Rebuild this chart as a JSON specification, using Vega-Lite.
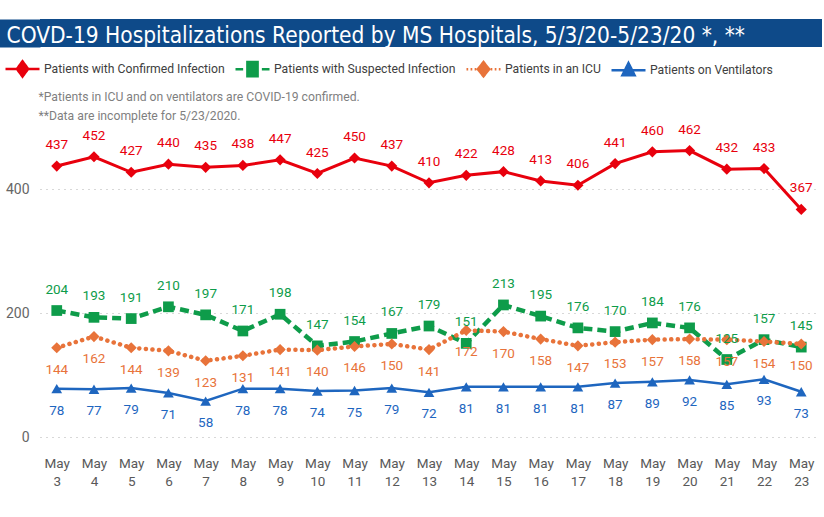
{
  "$schema": "https://vega.github.io/schema/vega-lite/v6.json",
  "padding": {"left": 0, "top": 15, "right": 0, "bottom": 0},
  "background": "white",
  "columns": 1,
  "align": "none",
  "spacing": 1,
  "resolve": {"legend": {"color": "independent"}, "scale": {"x": "independent", "y": "independent"}},
  "config": {"view": {"stroke": null}, "font": "Roboto, sans-serif"},
  "data": {"values": [
    {"day": 3, "series": "Patients with Confirmed Infection", "value": 437},
    {"day": 4, "series": "Patients with Confirmed Infection", "value": 452},
    {"day": 5, "series": "Patients with Confirmed Infection", "value": 427},
    {"day": 6, "series": "Patients with Confirmed Infection", "value": 440},
    {"day": 7, "series": "Patients with Confirmed Infection", "value": 435},
    {"day": 8, "series": "Patients with Confirmed Infection", "value": 438},
    {"day": 9, "series": "Patients with Confirmed Infection", "value": 447},
    {"day": 10, "series": "Patients with Confirmed Infection", "value": 425},
    {"day": 11, "series": "Patients with Confirmed Infection", "value": 450},
    {"day": 12, "series": "Patients with Confirmed Infection", "value": 437},
    {"day": 13, "series": "Patients with Confirmed Infection", "value": 410},
    {"day": 14, "series": "Patients with Confirmed Infection", "value": 422},
    {"day": 15, "series": "Patients with Confirmed Infection", "value": 428},
    {"day": 16, "series": "Patients with Confirmed Infection", "value": 413},
    {"day": 17, "series": "Patients with Confirmed Infection", "value": 406},
    {"day": 18, "series": "Patients with Confirmed Infection", "value": 441},
    {"day": 19, "series": "Patients with Confirmed Infection", "value": 460},
    {"day": 20, "series": "Patients with Confirmed Infection", "value": 462},
    {"day": 21, "series": "Patients with Confirmed Infection", "value": 432},
    {"day": 22, "series": "Patients with Confirmed Infection", "value": 433},
    {"day": 23, "series": "Patients with Confirmed Infection", "value": 367},
    {"day": 3, "series": "Patients with Suspected Infection", "value": 204},
    {"day": 4, "series": "Patients with Suspected Infection", "value": 193},
    {"day": 5, "series": "Patients with Suspected Infection", "value": 191},
    {"day": 6, "series": "Patients with Suspected Infection", "value": 210},
    {"day": 7, "series": "Patients with Suspected Infection", "value": 197},
    {"day": 8, "series": "Patients with Suspected Infection", "value": 171},
    {"day": 9, "series": "Patients with Suspected Infection", "value": 198},
    {"day": 10, "series": "Patients with Suspected Infection", "value": 147},
    {"day": 11, "series": "Patients with Suspected Infection", "value": 154},
    {"day": 12, "series": "Patients with Suspected Infection", "value": 167},
    {"day": 13, "series": "Patients with Suspected Infection", "value": 179},
    {"day": 14, "series": "Patients with Suspected Infection", "value": 151},
    {"day": 15, "series": "Patients with Suspected Infection", "value": 213},
    {"day": 16, "series": "Patients with Suspected Infection", "value": 195},
    {"day": 17, "series": "Patients with Suspected Infection", "value": 176},
    {"day": 18, "series": "Patients with Suspected Infection", "value": 170},
    {"day": 19, "series": "Patients with Suspected Infection", "value": 184},
    {"day": 20, "series": "Patients with Suspected Infection", "value": 176},
    {"day": 21, "series": "Patients with Suspected Infection", "value": 125},
    {"day": 22, "series": "Patients with Suspected Infection", "value": 157},
    {"day": 23, "series": "Patients with Suspected Infection", "value": 145},
    {"day": 3, "series": "Patients in an ICU", "value": 144},
    {"day": 4, "series": "Patients in an ICU", "value": 162},
    {"day": 5, "series": "Patients in an ICU", "value": 144},
    {"day": 6, "series": "Patients in an ICU", "value": 139},
    {"day": 7, "series": "Patients in an ICU", "value": 123},
    {"day": 8, "series": "Patients in an ICU", "value": 131},
    {"day": 9, "series": "Patients in an ICU", "value": 141},
    {"day": 10, "series": "Patients in an ICU", "value": 140},
    {"day": 11, "series": "Patients in an ICU", "value": 146},
    {"day": 12, "series": "Patients in an ICU", "value": 150},
    {"day": 13, "series": "Patients in an ICU", "value": 141},
    {"day": 14, "series": "Patients in an ICU", "value": 172},
    {"day": 15, "series": "Patients in an ICU", "value": 170},
    {"day": 16, "series": "Patients in an ICU", "value": 158},
    {"day": 17, "series": "Patients in an ICU", "value": 147},
    {"day": 18, "series": "Patients in an ICU", "value": 153},
    {"day": 19, "series": "Patients in an ICU", "value": 157},
    {"day": 20, "series": "Patients in an ICU", "value": 158},
    {"day": 21, "series": "Patients in an ICU", "value": 157},
    {"day": 22, "series": "Patients in an ICU", "value": 154},
    {"day": 23, "series": "Patients in an ICU", "value": 150},
    {"day": 3, "series": "Patients on Ventilators", "value": 78},
    {"day": 4, "series": "Patients on Ventilators", "value": 77},
    {"day": 5, "series": "Patients on Ventilators", "value": 79},
    {"day": 6, "series": "Patients on Ventilators", "value": 71},
    {"day": 7, "series": "Patients on Ventilators", "value": 58},
    {"day": 8, "series": "Patients on Ventilators", "value": 78},
    {"day": 9, "series": "Patients on Ventilators", "value": 78},
    {"day": 10, "series": "Patients on Ventilators", "value": 74},
    {"day": 11, "series": "Patients on Ventilators", "value": 75},
    {"day": 12, "series": "Patients on Ventilators", "value": 79},
    {"day": 13, "series": "Patients on Ventilators", "value": 72},
    {"day": 14, "series": "Patients on Ventilators", "value": 81},
    {"day": 15, "series": "Patients on Ventilators", "value": 81},
    {"day": 16, "series": "Patients on Ventilators", "value": 81},
    {"day": 17, "series": "Patients on Ventilators", "value": 81},
    {"day": 18, "series": "Patients on Ventilators", "value": 87},
    {"day": 19, "series": "Patients on Ventilators", "value": 89},
    {"day": 20, "series": "Patients on Ventilators", "value": 92},
    {"day": 21, "series": "Patients on Ventilators", "value": 85},
    {"day": 22, "series": "Patients on Ventilators", "value": 93},
    {"day": 23, "series": "Patients on Ventilators", "value": 73}
  ]},
  "concat": [
    {
      "width": 782,
      "height": 28,
      "view": {"fill": "#0E4A89", "stroke": null},
      "mark": {"type": "text"},
      "encoding": {
        "x": {
          "field": "day",
          "type": "ordinal",
          "axis": {
            "orient": "top",
            "zindex": 2,
            "labels": false,
            "ticks": false,
            "domain": false,
            "grid": false,
            "title": "COVD-19 Hospitalizations Reported by MS Hospitals, 5/3/20-5/23/20 *, **",
            "titleAnchor": "start",
            "titleAlign": "left",
            "titleBaseline": "alphabetic",
            "titleX": -34,
            "titleY": 23,
            "titleColor": "white",
            "titleFontSize": 22.5,
            "titleFontWeight": "normal",
            "titleFont": "DejaVu Sans Condensed, Roboto, sans-serif",
            "titlePadding": 0
          }
        },
        "y": {
          "field": "value",
          "type": "quantitative",
          "axis": {
            "zindex": 0,
            "labels": false,
            "ticks": false,
            "grid": false,
            "title": null,
            "domain": true,
            "domainColor": "#0E4A89",
            "domainWidth": 42,
            "offset": 21
          }
        },
        "text": {"value": ""}
      }
    },
    {
      "width": 778,
      "height": 310,
      "encoding": {
        "y": {
          "field": "value",
          "type": "quantitative",
          "scale": {"domain": [0, 500], "nice": false},
          "axis": {
            "values": [0, 200, 400],
            "title": null,
            "domain": false,
            "ticks": false,
            "labelFontSize": 14,
            "labelColor": "#666666",
            "labelPadding": 11,
            "minExtent": 40,
            "gridDash": [1, 5],
            "gridColor": "#b0b0b0",
            "gridWidth": 1
          }
        },
        "color": {
          "field": "series",
          "type": "nominal",
          "scale": {
            "domain": ["Patients with Confirmed Infection", "Patients with Suspected Infection", "Patients in an ICU", "Patients on Ventilators"],
            "range": ["#E8000D", "#0E9C4A", "#E8733A", "#1E66BF"]
          },
          "legend": {
            "orient": "none",
            "legendX": -36,
            "legendY": -77,
            "direction": "horizontal",
            "title": null,
            "labelFontSize": 12.2,
            "labelColor": "#404040",
            "labelLimit": 400,
            "symbolSize": 1156,
            "columnPadding": 5,
            "labelOffset": 3,
            "encode": {
              "symbols": {
                "update": {
                  "shape": {"signal": "datum.value === 'Patients with Confirmed Infection' ? 'M-1,0H1M0,-0.45L0.33,0L0,0.45L-0.33,0Z' : datum.value === 'Patients with Suspected Infection' ? 'M-1,0H-0.55M0.55,0H1M-0.3,-0.42H0.3V0.42H-0.3Z' : datum.value === 'Patients in an ICU' ? 'M-1,0H-0.9M-0.76,0H-0.66M-0.52,0H-0.42M0.42,0H0.52M0.66,0H0.76M0.9,0H1M0,-0.42L0.33,0L0,0.42L-0.33,0Z' : 'M-1,0H1M0,-0.42L0.36,0.3H-0.36Z'"},
                  "fill": {"scale": "color", "field": "value"},
                  "stroke": {"scale": "color", "field": "value"},
                  "strokeWidth": {"value": 2.5},
                  "strokeDash": {"value": [1, 0]},
                  "opacity": {"value": 1},
                  "size": {"value": 1156}
                }
              }
            }
          }
        }
      },
      "layer": [
        {
          "transform": [{"filter": {"field": "series", "equal": "Patients with Confirmed Infection"}}],
          "mark": {"type": "line", "strokeWidth": 3, "point": {"shape": "diamond", "size": 125, "filled": true, "opacity": 1}},
          "encoding": {
            "x": {
              "field": "day",
              "type": "ordinal",
              "scale": {"type": "point", "padding": 0.45},
              "axis": {
                "orient": "bottom",
                "title": null,
                "labelExpr": "['May', datum.label]",
                "labelAngle": 0,
                "labelFontSize": 13.5,
                "labelColor": "#595959",
                "labelLineHeight": 18,
                "labelPadding": 19,
                "domain": false,
                "ticks": false,
                "grid": false
              }
            }
          }
        },
        {
          "transform": [{"filter": {"field": "series", "equal": "Patients with Suspected Infection"}}],
          "mark": {"type": "line", "strokeWidth": 4.5, "strokeDash": [9, 5], "point": {"shape": "square", "size": 115, "filled": true, "opacity": 1}},
          "encoding": {
            "x": {
              "field": "day",
              "type": "ordinal",
              "axis": {
                "orient": "top",
                "labels": false,
                "ticks": false,
                "domain": false,
                "grid": false,
                "title": ["\u00a0\u00a0*Patients in ICU and on ventilators are COVID-19 confirmed.", "**Data are incomplete for 5/23/2020."],
                "titleAnchor": "start",
                "titleAlign": "left",
                "titleFontSize": 12.2,
                "titleFontWeight": "normal",
                "titleColor": "#7F7F7F",
                "titleLineHeight": 19,
                "titlePadding": 5,
                "titleX": -2
              }
            }
          }
        },
        {
          "transform": [{"filter": {"field": "series", "equal": "Patients in an ICU"}}],
          "mark": {"type": "line", "strokeWidth": 4.5, "strokeDash": [0.1, 6.5], "strokeCap": "round", "point": {"shape": "diamond", "size": 125, "filled": true, "opacity": 1}},
          "encoding": {"x": {"field": "day", "type": "ordinal", "axis": null}}
        },
        {
          "transform": [{"filter": {"field": "series", "equal": "Patients on Ventilators"}}],
          "mark": {"type": "line", "strokeWidth": 2.5, "point": {"shape": "triangle-up", "size": 115, "filled": true, "opacity": 1}},
          "encoding": {"x": {"field": "day", "type": "ordinal", "axis": null}}
        },
        {
          "transform": [{"filter": {"field": "series", "oneOf": ["Patients with Confirmed Infection", "Patients with Suspected Infection"]}}],
          "mark": {"type": "text", "dy": -21, "fontSize": 13.5},
          "encoding": {
            "x": {"field": "day", "type": "ordinal", "axis": null},
            "text": {"field": "value", "type": "quantitative"}
          }
        },
        {
          "transform": [{"filter": {"field": "series", "oneOf": ["Patients in an ICU", "Patients on Ventilators"]}}],
          "mark": {"type": "text", "dy": 22, "fontSize": 13.5},
          "encoding": {
            "x": {"field": "day", "type": "ordinal", "axis": null},
            "text": {"field": "value", "type": "quantitative"}
          }
        }
      ],
      "resolve": {"axis": {"x": "independent"}}
    }
  ]
}
